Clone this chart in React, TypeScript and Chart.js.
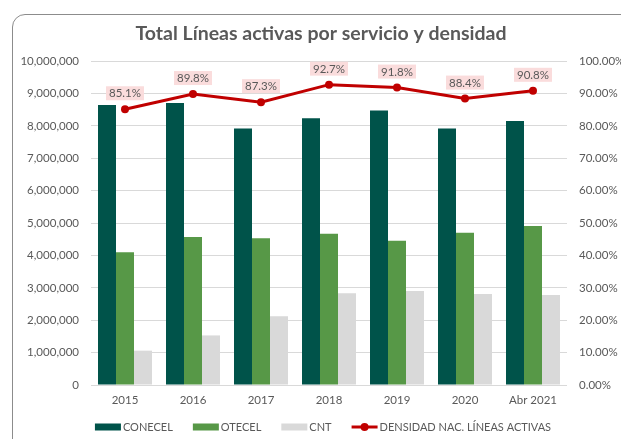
import React, { useEffect, useRef } from "react";
import { Chart, registerables } from "chart.js";

Chart.register(...registerables);

const categories = ["2015", "2016", "2017", "2018", "2019", "2020", "Abr 2021"];
const conecel = [8640000, 8700000, 7920000, 8230000, 8470000, 7920000, 8150000];
const otecel = [4100000, 4570000, 4530000, 4670000, 4450000, 4700000, 4910000];
const cnt = [1060000, 1530000, 2120000, 2830000, 2900000, 2810000, 2780000];
const densidad = [85.1, 89.8, 87.3, 92.7, 91.8, 88.4, 90.8];

const titleText = "Total Líneas activas por servicio y densidad";
const seriesLabels = ["CONECEL", "OTECEL", "CNT", "DENSIDAD NAC. LÍNEAS ACTIVAS"];
const leftMax = 10000000;
const leftStep = 1000000;
const rightMax = 100;
const rightStep = 10;

const FONT = "Lato, 'Liberation Sans', sans-serif";
const TEXT = "#595959";
const C_CONECEL = "#00534a";
const C_OTECEL = "#579847";
const C_CNT = "#d9d9d9";
const C_LINE = "#c00000";
const C_LABEL_BG = "#fadcdc";

export default function App() {
  const ref = useRef<HTMLCanvasElement>(null);

  useEffect(() => {
    const canvas = ref.current;
    if (!canvas) return;

    const titlePlugin = {
      id: "customTitle",
      afterDraw(chart: any) {
        const ctx = chart.ctx;
        ctx.save();
        ctx.font = `bold 19.5px ${FONT}`;
        ctx.fillStyle = TEXT;
        ctx.textAlign = "center";
        ctx.textBaseline = "alphabetic";
        ctx.fillText(titleText, 321, 40);
        ctx.restore();
      },
    };

    const labelPlugin = {
      id: "lineLabels",
      afterDatasetsDraw(chart: any) {
        const ctx = chart.ctx;
        const idx = chart.data.datasets.findIndex((d: any) => d.type === "line");
        const meta = chart.getDatasetMeta(idx);
        ctx.save();
        ctx.font = `11.5px ${FONT}`;
        ctx.textAlign = "center";
        ctx.textBaseline = "middle";
        meta.data.forEach((pt: any, i: number) => {
          const txt = densidad[i].toFixed(1) + "%";
          const w = ctx.measureText(txt).width + 6;
          const h = 14;
          const cx = pt.x;
          const cy = pt.y - 16;
          ctx.fillStyle = C_LABEL_BG;
          ctx.fillRect(cx - w / 2, cy - h / 2, w, h);
          ctx.fillStyle = TEXT;
          ctx.fillText(txt, cx, cy + 0.5);
        });
        ctx.restore();
      },
    };

    const legendPlugin = {
      id: "customLegend",
      afterDraw(chart: any) {
        const ctx = chart.ctx;
        ctx.save();
        ctx.font = `11px ${FONT}`;
        const ds = chart.data.datasets;
        const order = [1, 2, 3, 0];
        const items = order.map((k) => ds[k]);
        const boxW = 26;
        const gapBT = 2;
        const gapItem = 20;
        const widths = items.map((d: any) => boxW + gapBT + ctx.measureText(d.label).width);
        const total = widths.reduce((a: number, b: number) => a + b, 0) + gapItem * (items.length - 1);
        let x = 323 - total / 2;
        const y = 427;
        items.forEach((d: any, i: number) => {
          if (d.type === "line") {
            ctx.strokeStyle = C_LINE;
            ctx.lineWidth = 3;
            ctx.beginPath();
            ctx.moveTo(x, y);
            ctx.lineTo(x + boxW, y);
            ctx.stroke();
            ctx.fillStyle = C_LINE;
            ctx.beginPath();
            ctx.arc(x + boxW / 2, y, 4, 0, Math.PI * 2);
            ctx.fill();
          } else {
            ctx.fillStyle = d.backgroundColor;
            ctx.fillRect(x, y - 3.5, boxW, 7);
          }
          ctx.fillStyle = TEXT;
          ctx.textAlign = "left";
          ctx.textBaseline = "middle";
          ctx.fillText(d.label, x + boxW + gapBT, y + 0.5);
          x += widths[i] + gapItem;
        });
        ctx.restore();
      },
    };

    const chart = new Chart(canvas, {
      type: "bar",
      data: {
        labels: categories,
        datasets: [
          {
            type: "line",
            label: seriesLabels[3],
            data: densidad,
            yAxisID: "y1",
            borderColor: C_LINE,
            backgroundColor: C_LINE,
            borderWidth: 3,
            pointRadius: 4,
            pointBackgroundColor: C_LINE,
            pointBorderWidth: 0,
            tension: 0,
            order: 0,
          } as any,
          {
            type: "bar",
            label: seriesLabels[0],
            data: conecel,
            yAxisID: "y",
            backgroundColor: C_CONECEL,
            barPercentage: 1,
            categoryPercentage: 0.794,
            order: 1,
          },
          {
            type: "bar",
            label: seriesLabels[1],
            data: otecel,
            yAxisID: "y",
            backgroundColor: C_OTECEL,
            barPercentage: 1,
            categoryPercentage: 0.794,
            order: 1,
          },
          {
            type: "bar",
            label: seriesLabels[2],
            data: cnt,
            yAxisID: "y",
            backgroundColor: C_CNT,
            barPercentage: 1,
            categoryPercentage: 0.794,
            order: 1,
          },
        ],
      },
      options: {
        responsive: false,
        animation: false,
        devicePixelRatio: 1,
        events: [],
        layout: { padding: { top: 61, left: 0, right: 0, bottom: 0 } },
        plugins: {
          legend: { display: false },
          title: { display: false },
          tooltip: { enabled: false },
        },
        scales: {
          x: {
            grid: { display: false, drawTicks: false },
            border: { display: false },
            ticks: {
              color: TEXT,
              font: { family: FONT, size: 11.5 },
              padding: 8,
              maxRotation: 0,
              autoSkip: false,
            },
            afterFit: (s: any) => {
              s.height = 54;
            },
          },
          y: {
            position: "left",
            min: 0,
            max: leftMax,
            grid: { color: "#d9d9d9", lineWidth: 1, drawTicks: false },
            border: { display: false },
            ticks: {
              stepSize: leftStep,
              color: TEXT,
              font: { family: FONT, size: 11.5 },
              padding: 12,
              callback: (v: any) => Number(v).toLocaleString("en-US"),
            },
            afterFit: (s: any) => {
              s.width = 91;
            },
          },
          y1: {
            position: "right",
            min: 0,
            max: rightMax,
            grid: { display: false, drawTicks: false },
            border: { display: false },
            ticks: {
              stepSize: rightStep,
              color: TEXT,
              font: { family: FONT, size: 11.5 },
              padding: 12,
              callback: (v: any) => Number(v).toFixed(2) + "%",
            },
            afterFit: (s: any) => {
              s.width = 54;
            },
          },
        },
      },
      plugins: [labelPlugin, legendPlugin, titlePlugin],
    });

    return () => chart.destroy();
  }, []);

  return (
    <div
      style={{
        position: "fixed",
        left: 0,
        top: 0,
        width: 621,
        height: 439,
        overflow: "hidden",
        background: "#fff",
      }}
    >
      <div
        style={{
          position: "absolute",
          left: 12,
          top: 14,
          width: 640,
          height: 480,
          border: "1.5px solid #8c8c8c",
          borderRadius: 13,
          boxSizing: "border-box",
        }}
      />
      <canvas
        ref={ref}
        width={621}
        height={439}
        style={{ position: "absolute", left: 0, top: 0, width: 621, height: 439 }}
      />
    </div>
  );
}
